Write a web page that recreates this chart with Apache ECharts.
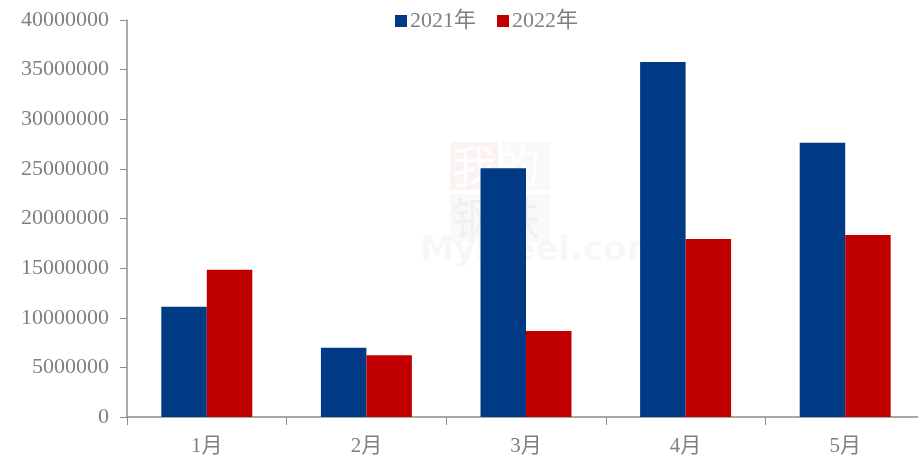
<!DOCTYPE html>
<html>
<head>
<meta charset="utf-8">
<script src="https://cdn.jsdelivr.net/npm/echarts@6/dist/echarts.min.js"></script>
<style>
  html, body { margin: 0; padding: 0; background: #fff; overflow: hidden; }
  /* plot runs past the right edge of the window, as in the reference */
  #chart { width: 925px; height: 461px; }
</style>
</head>
<body>
<div id="chart"></div>
<script>
const months = ["1月", "2月", "3月", "4月", "5月"];
const seriesNames = ["2021年", "2022年"];
const values2021 = [11100000, 6980000, 25060000, 35770000, 27640000];
const values2022 = [14840000, 6210000, 8670000, 17930000, 18340000];

const fontFamily = "'Liberation Serif', 'Times New Roman', 'Noto Sans CJK SC', serif";
const labelColor = "#7f7f7f";
const axisColor = "#8c8c8c";

const chart = echarts.init(document.getElementById("chart"));

chart.setOption({
  backgroundColor: "#fff",
  animation: false,
  textStyle: { fontFamily: fontFamily },
  legend: {
    top: 5,
    left: 390,
    itemWidth: 12,
    itemHeight: 12,
    itemGap: 21,
    icon: "rect",
    textStyle: { color: labelColor, fontSize: 22, fontFamily: fontFamily, padding: [0, 0, 0, -2] },
    data: seriesNames
  },
  // faint site watermark behind the bars
  graphic: [
    { type: "rect", z: -1, shape: { x: 450, y: 142, width: 48, height: 48 }, style: { fill: "rgba(200,0,0,0.05)" } },
    { type: "rect", z: -1, shape: { x: 502, y: 142, width: 48, height: 48 }, style: { fill: "rgba(0,59,132,0.03)" } },
    { type: "rect", z: -1, shape: { x: 450, y: 194, width: 48, height: 48 }, style: { fill: "rgba(0,59,132,0.03)" } },
    { type: "rect", z: -1, shape: { x: 502, y: 194, width: 48, height: 48 }, style: { fill: "rgba(0,59,132,0.03)" } },
    { type: "text", z: -1, left: 452, top: 144, style: { text: "我的", fill: "#ffffff", font: "44px 'Noto Sans CJK SC'" } },
    { type: "text", z: -1, left: 452, top: 196, style: { text: "钢铁", fill: "#f0f0f3", font: "44px 'Noto Sans CJK SC'" } },
    { type: "text", z: -1, left: 420, top: 234, style: { text: "Mysteel.com", fill: "rgba(0,0,0,0.03)", font: "bold 34px 'DejaVu Sans'" } }
  ],
  grid: { left: 127, right: 0, top: 20, bottom: 44, containLabel: false },
  xAxis: {
    type: "category",
    data: months,
    axisLine: { lineStyle: { color: axisColor, width: 1.5 } },
    axisTick: { show: true, length: 8, lineStyle: { color: axisColor } },
    axisLabel: { color: labelColor, fontSize: 21, margin: 19, fontFamily: fontFamily }
  },
  yAxis: {
    type: "value",
    min: 0,
    max: 40000000,
    interval: 5000000,
    splitLine: { show: false },
    axisLine: { show: true, lineStyle: { color: axisColor, width: 1.5 } },
    axisTick: { show: true, length: 7, lineStyle: { color: axisColor } },
    axisLabel: {
      color: labelColor, fontSize: 22, margin: 18, fontFamily: fontFamily,
      formatter: (v) => String(v)
    }
  },
  series: [
    {
      name: seriesNames[0],
      type: "bar",
      data: values2021,
      barGap: "0%",
      barCategoryGap: "43%",
      itemStyle: { color: "#003a84" }
    },
    {
      name: seriesNames[1],
      type: "bar",
      data: values2022,
      barGap: "0%",
      barCategoryGap: "43%",
      itemStyle: { color: "#c00000" }
    }
  ]
});

window.addEventListener("resize", () => chart.resize());
</script>
</body>
</html>
